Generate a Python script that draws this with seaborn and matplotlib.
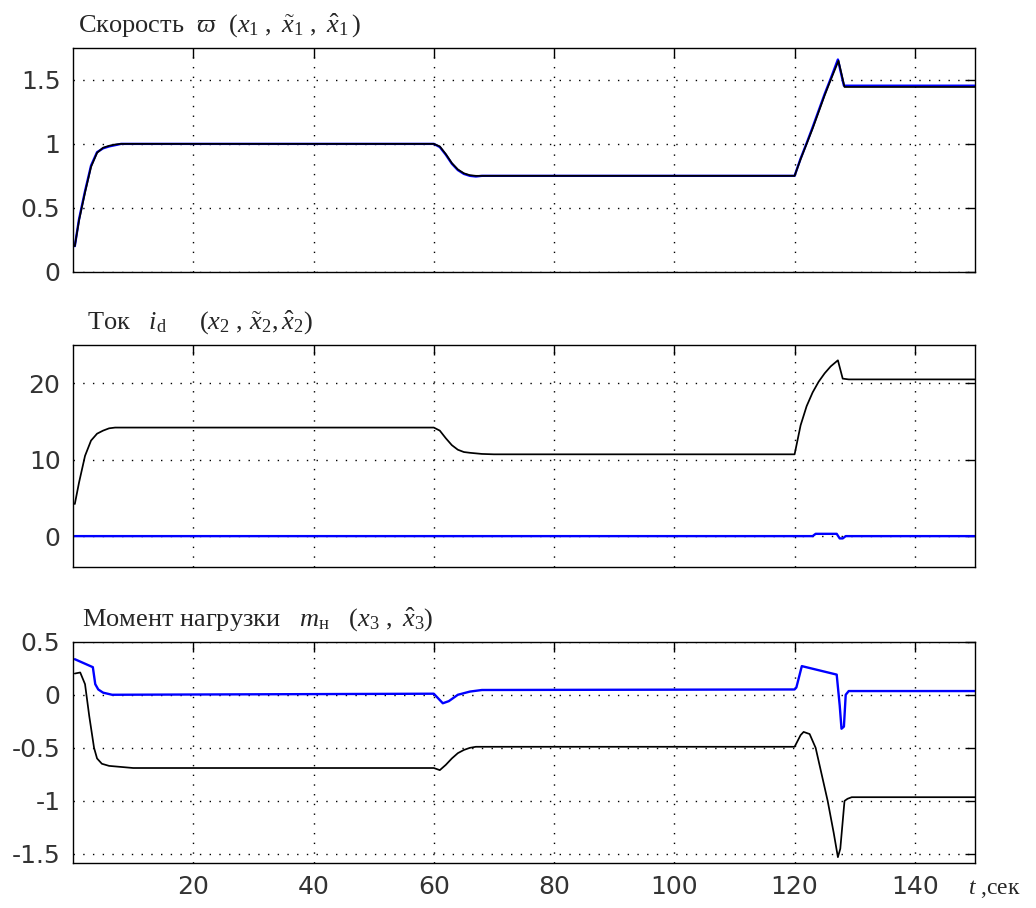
import numpy as np
import pandas as pd
import seaborn as sns
import matplotlib
matplotlib.use('Agg')
import matplotlib.pyplot as plt

# speed omega: x1 (black) and its estimate (blue)
t_x1 = [0.3, 1, 2, 3, 4, 5, 6, 7, 8, 60, 61, 62, 63, 64, 65, 66, 67, 68,
        120, 121, 122, 123, 124, 125, 126, 127.3, 128.3, 129, 150]
x1 = [0.2, 0.4, 0.62, 0.82, 0.93, 0.97, 0.985, 0.995, 1.0, 1.0, 0.98, 0.92, 0.85, 0.8, 0.77, 0.755, 0.75, 0.75,
      0.75, 0.88, 1.0, 1.12, 1.25, 1.38, 1.5, 1.65, 1.445, 1.445, 1.445]
t_x1_est = [0.3, 1, 2, 3, 4, 5, 6, 7, 8, 60, 61, 62, 63, 64, 65, 66, 67, 68,
            120, 121, 122, 123, 124, 125, 126, 127.2, 128.2, 129, 150]
x1_est = [0.2, 0.41, 0.63, 0.83, 0.935, 0.965, 0.98, 0.99, 1.0, 1.0, 0.975, 0.915, 0.845, 0.795, 0.765, 0.75, 0.745, 0.75,
          0.75, 0.885, 1.005, 1.13, 1.26, 1.39, 1.51, 1.66, 1.455, 1.455, 1.455]

# current i_d: x2 (black) and estimate (blue)
t_x2 = [0.3, 1, 2, 3, 4, 5, 6, 7, 8, 60, 61, 62, 63, 64, 65, 66, 68, 70,
        120, 121, 122, 123, 124, 125, 126, 127.2, 128, 129, 150]
x2 = [4.2, 7.0, 10.5, 12.5, 13.4, 13.8, 14.1, 14.2, 14.2, 14.2, 13.8, 12.8, 11.9, 11.3, 11.0, 10.9, 10.75, 10.7,
      10.7, 14.5, 17.0, 18.8, 20.2, 21.3, 22.2, 23.0, 20.6, 20.5, 20.5]
t_x2_est = [0.3, 123, 123.5, 127, 127.5, 128, 128.5, 150]
x2_est = [0.0, 0.0, 0.3, 0.3, -0.3, -0.3, 0.0, 0.0]

# load torque m_n: x3 (black) and estimate (blue)
t_x3 = [0.3, 1.2, 2.0, 2.7, 3.5, 4.0, 4.8, 6, 8, 10, 60, 61, 62, 63, 64, 65, 66, 67,
        120, 121, 121.5, 122.5, 123.5, 124.5, 125.5, 126.5, 127.2, 127.6, 128.3, 128.8, 129.5, 150]
x3 = [0.2, 0.21, 0.1, -0.2, -0.5, -0.6, -0.65, -0.67, -0.68, -0.69, -0.69, -0.71, -0.66, -0.6, -0.55, -0.52, -0.5, -0.49,
      -0.49, -0.38, -0.35, -0.37, -0.5, -0.75, -1.0, -1.3, -1.53, -1.45, -1.0, -0.98, -0.965, -0.965]
t_x3_est = [0.3, 3.3, 3.7, 4.2, 5, 6.5, 60, 61, 61.5, 62.5, 64, 66, 68,
            120, 120.3, 121.2, 127, 127.5, 127.8, 128.2, 128.5, 129, 150]
x3_est = [0.335, 0.26, 0.1, 0.05, 0.02, 0.0, 0.01, -0.05, -0.08, -0.06, 0.0, 0.03, 0.045,
          0.05, 0.07, 0.27, 0.19, -0.1, -0.32, -0.3, 0.0, 0.035, 0.035]

x_ticks = [20, 40, 60, 80, 100, 120, 140]

sns.set_style('white')
plt.rcParams['font.family'] = ['DejaVu Sans']
plt.rcParams['axes.unicode_minus'] = False
plt.rcParams['mathtext.fontset'] = 'custom'
plt.rcParams['mathtext.rm'] = 'Liberation Serif'
plt.rcParams['mathtext.it'] = 'Liberation Serif:italic'
plt.rcParams['mathtext.fallback'] = 'stix'

fig = plt.figure(figsize=(10.36, 9.08), dpi=100)
W, H = 1036, 908
left, right = 73, 975
panels = [(48, 271.7), (345, 566.7), (641.7, 863)]
axes = []
for top, bot in panels:
    ax = fig.add_axes([left / W, 1 - bot / H, (right - left) / W, (bot - top) / H])
    axes.append(ax)

blue = '#0000ff'
series = [
    (t_x1_est, x1_est, t_x1, x1),
    (t_x2_est, x2_est, t_x2, x2),
    (t_x3_est, x3_est, t_x3, x3),
]
for ax, (tb, yb, tk, yk) in zip(axes, series):
    sns.lineplot(x=tb, y=yb, ax=ax, color=blue, lw=1.7, estimator=None)
    sns.lineplot(x=tk, y=yk, ax=ax, color='black', lw=1.25, estimator=None)

ylims = [(0, 1.75), (-4, 25), (-1.585, 0.5)]
yticks = [[0, 0.5, 1, 1.5], [0, 10, 20], [-1.5, -1, -0.5, 0, 0.5]]
ylabels = [['0', '0.5', '1', '1.5'], ['0', '10', '20'], ['-1.5', '-1', '-0.5', '0', '0.5']]

for i, ax in enumerate(axes):
    ax.set_xlim(0, 150)
    ax.set_ylim(*ylims[i])
    ax.set_xticks(x_ticks)
    ax.set_yticks(yticks[i])
    ax.set_yticklabels(ylabels[i])
    if i < 2:
        ax.set_xticklabels([])
    ax.tick_params(direction='in', length=7, width=1, top=True, right=True,
                   labelsize=18, pad=9, colors='black', labelcolor='#333333')
    ax.grid(True, color='black', linestyle=(0, (1, 6)), linewidth=1.0)
    for sp in ax.spines.values():
        sp.set_visible(True)
        sp.set_color('black')
        sp.set_linewidth(1.0)
    ax.set_xlabel('')
    ax.set_ylabel('')

title_kw = dict(fontsize=19, family=['Liberation Serif', 'DejaVu Serif'], va='bottom', ha='left')
axes[0].text(0.005, 1.035, r'Скорость  $\varpi$  $(x_1\ ,\ \tilde{x}_1\ ,\ \hat{x}_1\,)$',
             transform=axes[0].transAxes, **title_kw)
axes[1].text(0.015, 1.035, r'Ток   $i_{\mathrm{d}}$     $(x_2\ ,\,\tilde{x}_2,\hat{x}_2)$',
             transform=axes[1].transAxes, **title_kw)
axes[2].text(0.01, 1.035, r'Момент нагрузки   $m_{\mathrm{н}}$   $(x_3\ ,\ \hat{x}_3)$',
             transform=axes[2].transAxes, **title_kw)

fig.text(0.934, 0.021, r'$t$ ,сек', fontsize=17, va='center', ha='left',
         family=['Liberation Serif', 'DejaVu Serif'])

plt.savefig('out.png', dpi=100)
plt.close()
